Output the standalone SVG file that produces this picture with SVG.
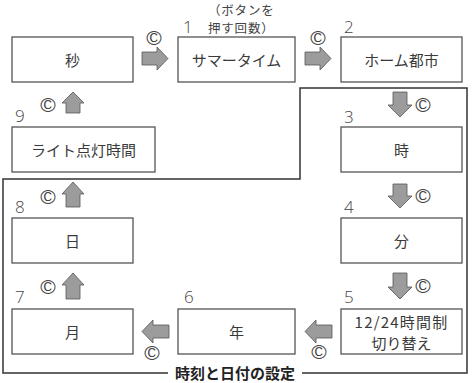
<svg xmlns="http://www.w3.org/2000/svg" width="474" height="383" viewBox="0 0 474 383">
<style>
.box{fill:#fff;stroke:#555;stroke-width:1.3}
.lbl{font-family:"Noto Sans CJK JP","Noto Sans",sans-serif;font-size:15px;fill:#3a3a3a;text-anchor:middle;dominant-baseline:central}
.num{font-family:"Open Sans","Noto Sans",sans-serif;font-size:17px;font-weight:300;fill:#444}
.hd{font-family:"Noto Sans CJK JP",sans-serif;font-size:12.5px;letter-spacing:0.8px;fill:#444}
.cc{font-family:"Liberation Sans",sans-serif;font-size:21px;fill:#444;text-anchor:middle;dominant-baseline:central}
.arr{fill:#9c9c9c;stroke:#555;stroke-width:0.8}
.frame{fill:none;stroke:#333;stroke-width:1.5}
.ttl{font-family:"Noto Sans CJK JP",sans-serif;font-size:15px;font-weight:bold;fill:#222;text-anchor:middle;dominant-baseline:central}
</style>
<rect width="474" height="383" fill="#fff"/>
<g id="frame">
<path class="frame" d="M168,373 H3 V179 H300 V88 H467 V373 H302"/>
<text class="ttl" x="235" y="372">時刻と日付の設定</text>
</g>
<g id="header">
<text class="hd" x="208" y="14.8">（ボタンを</text>
<text class="hd" x="208" y="33">押す回数）</text>
</g>
<g id="n-byou"><rect class="box" x="12" y="37" width="121" height="45"/><text class="lbl" x="72.5" y="59.5">秒</text></g>
<g id="n-summer"><rect class="box" x="178" y="37" width="117" height="45"/><text class="lbl" x="236.5" y="59.5">サマータイム</text><text class="num" x="183" y="33">1</text></g>
<g id="n-home"><rect class="box" x="341" y="37" width="121" height="45"/><text class="lbl" x="401.5" y="59.5">ホーム都市</text><text class="num" x="344" y="33">2</text></g>
<g id="n-light"><rect class="box" x="12" y="127" width="143" height="45"/><text class="lbl" x="83.5" y="149.5">ライト点灯時間</text><text class="num" x="15" y="122">9</text></g>
<g id="n-ji"><rect class="box" x="341" y="127" width="121" height="45"/><text class="lbl" x="401.5" y="149.5">時</text><text class="num" x="344" y="123">3</text></g>
<g id="n-hi"><rect class="box" x="12" y="218" width="121" height="45"/><text class="lbl" x="72.5" y="240.5">日</text><text class="num" x="15" y="213">8</text></g>
<g id="n-fun"><rect class="box" x="341" y="218" width="121" height="45"/><text class="lbl" x="401.5" y="240.5">分</text><text class="num" x="344" y="213">4</text></g>
<g id="n-tsuki"><rect class="box" x="12" y="309" width="121" height="45"/><text class="lbl" x="72.5" y="331.5">月</text><text class="num" x="15" y="303">7</text></g>
<g id="n-toshi"><rect class="box" x="178" y="309" width="117" height="45"/><text class="lbl" x="236.5" y="331.5">年</text><text class="num" x="184" y="303">6</text></g>
<g id="n-1224"><rect class="box" x="341" y="309" width="121" height="45"/><text class="lbl" x="401.5" y="321.5" style="letter-spacing:1.2px">12/24時間制</text><text class="lbl" x="401.5" y="342">切り替え</text><text class="num" x="344" y="303">5</text></g>
<g id="connectors">
<path class="arr" d="M142,52 H157 V47 L168,58.5 L157,70 V65 H142 Z"/>
<text class="cc" x="154" y="37">©</text>
<path class="arr" d="M305,52 H320 V47 L331,58.5 L320,70 V65 H305 Z"/>
<text class="cc" x="318" y="37">©</text>
<path class="arr" d="M393,92 H407 V105 H412 L400,117 L388,105 H393 Z"/>
<text class="cc" x="423" y="104">©</text>
<path class="arr" d="M393,184 H407 V196 H412 L400,208 L388,196 H393 Z"/>
<text class="cc" x="423" y="195">©</text>
<path class="arr" d="M393,273 H407 V287 H412 L400,299 L388,287 H393 Z"/>
<text class="cc" x="423" y="285">©</text>
<path class="arr" d="M332,325 H316 V320 L305,331.5 L316,343 V338 H332 Z"/>
<text class="cc" x="319" y="351">©</text>
<path class="arr" d="M169,325 H153 V320 L142,331.5 L153,343 V338 H169 Z"/>
<text class="cc" x="152" y="352">©</text>
<path class="arr" d="M66,299 V285 H62 L73,273 L84,285 H80 V299 Z"/>
<text class="cc" x="48" y="286">©</text>
<path class="arr" d="M66,207 V194 H62 L73,182 L84,194 H80 V207 Z"/>
<text class="cc" x="48" y="196">©</text>
<path class="arr" d="M66,113 V103 H62 L73,92 L84,103 H80 V113 Z"/>
<text class="cc" x="48" y="104">©</text>
</g>
</svg>
